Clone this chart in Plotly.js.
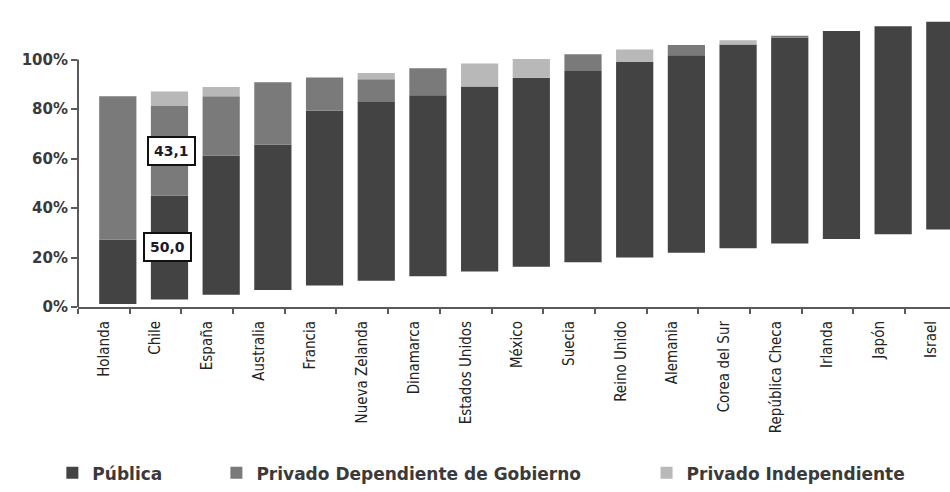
<!DOCTYPE html>
<html>
<head>
<meta charset="utf-8">
<script src="https://cdn.plot.ly/plotly-3.0.1.min.js"></script>
<style>html,body{margin:0;padding:0;background:#fff;}#chart{width:950px;height:492px;}</style>
</head>
<body>
<div id="chart"></div>
<script>
// ---- data (percent of enrolment by type of school) ----
const categories = ['Holanda','Chile','España','Australia','Francia','Nueva Zelanda','Dinamarca','Estados Unidos','México','Suecia','Reino Unido','Alemania','Corea del Sur','República Checa','Irlanda','Japón','Israel'];
const publica    = [31, 50.0, 67, 70, 84, 86, 87, 89, 91, 92, 94, 95, 98, 99, 100, 100, 100];
const privadoDep = [69, 43.1, 28.5, 30, 16, 11, 13, 0, 0, 8, 0, 5, 0, 1, 0, 0, 0];
const privadoInd = [0, 6.9, 4.5, 0, 0, 3, 0, 11, 9, 0, 6, 0, 2, 0, 0, 0, 0];
const seriesNames = ['Pública', 'Privado Dependiente de Gobierno', 'Privado Independiente'];
const yTickPercents = [0, 20, 40, 60, 80, 100];
const labelCountry = 'Chile';

// ---- presentation (perspective of the original 3D drawing) ----
const axisScale = 250 / 210;            // axis tick spacing vs. bar height in the drawing
const liftStart = 1.4, liftStep = 2.24; // 3D floor tilt of the original
const lift = categories.map((c, i) => liftStart + liftStep * i);
const base2 = publica.map((v, i) => lift[i] + v);
const base3 = privadoDep.map((v, i) => base2[i] + v);

const barCommon = {type: 'bar', x: categories, width: 0.72, offset: -0.09, hoverinfo: 'skip'};
const traces = [
  Object.assign({}, barCommon, {name: seriesNames[0], y: publica, base: lift, marker: {color: '#434343', line: {width: 0}}, legend: 'legend'}),
  Object.assign({}, barCommon, {name: seriesNames[1], y: privadoDep, base: base2, marker: {color: '#7a7a7a', line: {width: 0}}, legend: 'legend2'}),
  Object.assign({}, barCommon, {name: seriesNames[2], y: privadoInd, base: base3, marker: {color: '#b8b8b8', line: {width: 0}}, legend: 'legend3'})
];

const fmt = v => v.toFixed(1).replace('.', ',');
const ci = categories.indexOf(labelCountry);
const annBox = {xref: 'x', yref: 'y', showarrow: false, bgcolor: '#ffffff', bordercolor: '#111111', borderwidth: 2, borderpad: 5,
  font: {family: 'DejaVu Sans, sans-serif', size: 14, color: '#1a1a2a', weight: 700}};

const legFont = {family: 'DejaVu Sans, sans-serif', size: 17, color: '#3a3a3a', weight: 700};
const legCommon = {orientation: 'h', y: -0.56, yanchor: 'middle', xanchor: 'left', bgcolor: 'rgba(0,0,0,0)', font: legFont, itemclick: false};

const layout = {
  width: 950, height: 492,
  margin: {l: 78, r: 0, t: 10, b: 182},
  paper_bgcolor: '#ffffff', plot_bgcolor: '#ffffff',
  barmode: 'overlay',
  showlegend: true,
  xaxis: {
    type: 'category', range: [-0.5, 16.37],
    showline: true, linecolor: '#5a5a5a', linewidth: 2,
    ticks: 'outside', tickson: 'boundaries', ticklen: 5, tickcolor: '#5a5a5a', tickwidth: 2,
    tickangle: -90, showgrid: false, zeroline: false, ticklabelstandoff: 6,
    tickfont: {family: 'Liberation Sans Narrow, DejaVu Sans Condensed, sans-serif', size: 15, color: '#222222'}
  },
  yaxis: {
    range: [0, 300 / 2.1],
    tickvals: yTickPercents.map(v => v * axisScale),
    ticktext: yTickPercents.map(v => v + '%'),
    ticks: 'outside', ticklen: 6, tickcolor: '#5a5a5a', tickwidth: 2,
    showline: false, showgrid: false, zeroline: false,
    tickfont: {family: 'DejaVu Sans, sans-serif', size: 15, color: '#3a3a3a', weight: 700}
  },
  shapes: [{type: 'line', xref: 'paper', yref: 'y', x0: 0, x1: 0, y0: 0, y1: 100 * axisScale, line: {color: '#5a5a5a', width: 2}}],
  annotations: [
    Object.assign({}, annBox, {x: ci, y: lift[ci] + publica[ci] / 2, xshift: 12, text: fmt(publica[ci])}),
    Object.assign({}, annBox, {x: ci, y: base2[ci] + privadoDep[ci] / 2, xshift: 16, text: fmt(privadoDep[ci])})
  ],
  legend:  Object.assign({}, legCommon, {x: -0.0294}),
  legend2: Object.assign({}, legCommon, {x: 0.1587}),
  legend3: Object.assign({}, legCommon, {x: 0.652})
};

Plotly.newPlot('chart', traces, layout, {staticPlot: true, displayModeBar: false});
</script>
</body>
</html>
